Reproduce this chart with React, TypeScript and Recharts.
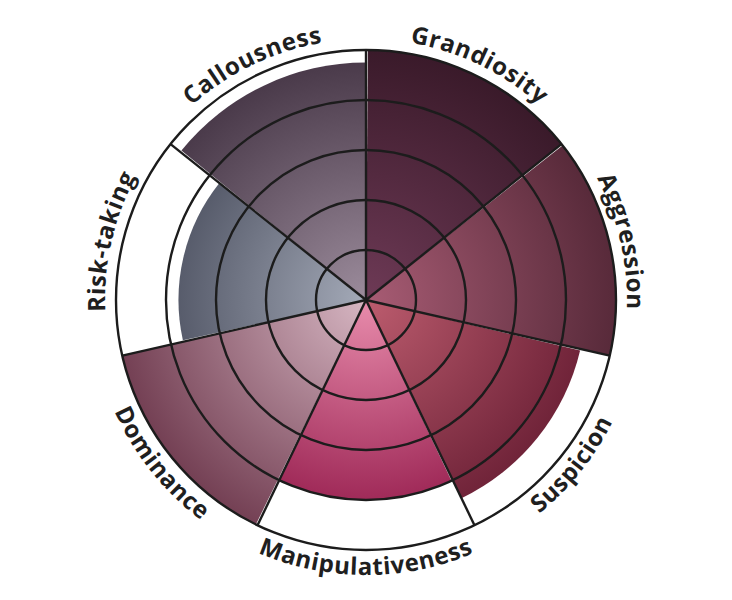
import React from 'react';
import {
  RadialBarChart,
  RadialBar,
  PolarAngleAxis,
  PolarRadiusAxis,
  PolarGrid,
  Cell,
} from 'recharts';

// ---- data ----
const traits = [
  'Grandiosity',
  'Aggression',
  'Suspicion',
  'Manipulativeness',
  'Dominance',
  'Risk-taking',
  'Callousness',
];
const scores = [5, 5, 4.4, 4, 5, 3.75, 4.75];
const radiusTicks = [0, 1, 2, 3, 4, 5];

// ---- styling ----
const innerColors = ['#6e3a56', '#a85c74', '#bc5c6e', '#e88cac', '#d6b6c2', '#a4aab8', '#9c8c9c'];
const outerColors = ['#3a1a2a', '#582a3a', '#661c32', '#8e1244', '#744054', '#3e4252', '#463646'];

const W = 732;
const H = 600;
const CX = W / 2;
const CY = H / 2;
const R = 250;
const STEP = 360 / traits.length;
const START = 90 - STEP;
const END = START - 360;

const data = traits.map((t, i) => ({ trait: t, score: scores[i] }));
const boundaryAngles = traits.map((_, i) => 90 - STEP * i);

const LabelTick = (props: any) => {
  const { payload, index } = props;
  const cx = props.cx ?? CX;
  const cy = props.cy ?? CY;
  const radius = props.radius ?? R;
  const a = (payload.coordinate as number) + STEP / 2;
  const rad = Math.PI / 180;
  const top = Math.sin(a * rad) >= -0.05;
  const r = top ? radius + 11 : radius + 25;
  const span = 80;
  const pt = (deg: number) => [cx + r * Math.cos(deg * rad), cy - r * Math.sin(deg * rad)];
  const [s, e] = top ? [a + span, a - span] : [a - span, a + span];
  const [x1, y1] = pt(s);
  const [x2, y2] = pt(e);
  const d = `M ${x1} ${y1} A ${r} ${r} 0 0 ${top ? 1 : 0} ${x2} ${y2}`;
  const id = `label-arc-${index}`;
  return (
    <g>
      <path id={id} d={d} fill="none" stroke="none" />
      <text
        fontFamily="'Open Sans', sans-serif"
        fontWeight={700}
        fontSize={24}
        fill="#1f1f1f"
        letterSpacing={0.6}
      >
        <textPath href={`#${id}`} startOffset="50%" textAnchor="middle">
          {payload.value}
        </textPath>
      </text>
    </g>
  );
};

const common = {
  width: W,
  height: H,
  data,
  cx: '50%',
  cy: '50%',
  innerRadius: 0,
  outerRadius: R,
  startAngle: START,
  endAngle: END,
  layout: 'centric' as any,
  barCategoryGap: 0,
  barGap: 0,
  margin: { top: 0, right: 0, bottom: 0, left: 0 },
};

export default function App() {
  return (
    <div style={{ position: 'absolute', left: 0, top: 0, width: W, height: H, background: '#fff' }}>
      <div style={{ position: 'absolute', left: 0, top: 0 }}>
        <RadialBarChart {...common}>
          <defs>
            {traits.map((t, i) => (
              <radialGradient key={t} id={`grad-${i}`} gradientUnits="userSpaceOnUse" cx={CX} cy={CY} r={R}>
                <stop offset="0%" stopColor={innerColors[i]} />
                <stop offset="100%" stopColor={outerColors[i]} />
              </radialGradient>
            ))}
          </defs>
          <PolarAngleAxis type="category" dataKey="trait" tick={false} axisLine={false} tickLine={false} />
          <PolarRadiusAxis type="number" domain={[0, 5]} ticks={radiusTicks} tick={false} axisLine={false} />
          <RadialBar dataKey="score" isAnimationActive={false} stroke="none">
            {data.map((d, i) => (
              <Cell key={d.trait} fill={`url(#grad-${i})`} />
            ))}
          </RadialBar>
        </RadialBarChart>
      </div>
      <div style={{ position: 'absolute', left: 0, top: 0 }}>
        <RadialBarChart {...common}>
          <PolarGrid
            gridType="circle"
            polarAngles={boundaryAngles}
            stroke="#1c1c1c"
            strokeWidth={2.4}
            strokeOpacity={1}
          />
          <PolarAngleAxis
            type="category"
            dataKey="trait"
            tick={<LabelTick />}
            axisLine={false}
            tickLine={false}
          />
          <PolarRadiusAxis type="number" domain={[0, 5]} ticks={radiusTicks} tick={false} axisLine={false} />
          <RadialBar dataKey="score" isAnimationActive={false} fill="none" stroke="none" />
        </RadialBarChart>
      </div>
    </div>
  );
}
